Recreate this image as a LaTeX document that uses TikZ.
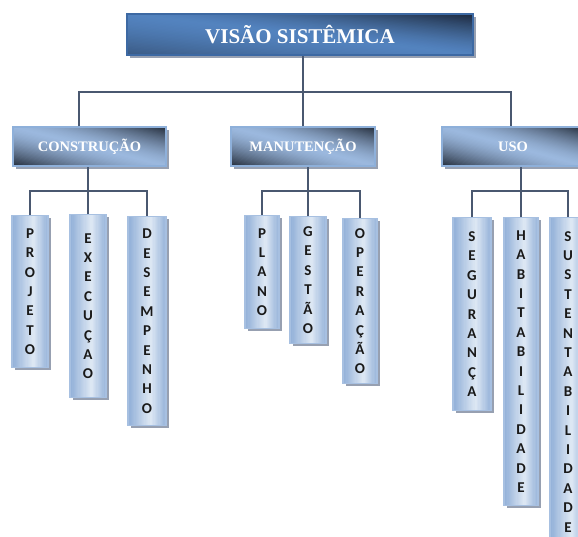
\documentclass[tikz,border=0pt]{standalone}
\usepackage{fontspec}
\setmainfont{Liberation Serif}
\newfontfamily\lettersfont{Carlito}
\usetikzlibrary{shadows}
\definecolor{linec}{HTML}{4A5870}
\definecolor{topblue}{HTML}{5383BF}
\definecolor{topdark}{HTML}{1C283C}
\definecolor{topedge}{HTML}{3D69A3}
\definecolor{midlight}{HTML}{9BB8DE}
\definecolor{midblack}{HTML}{242D3B}
\definecolor{midedge}{HTML}{8EB0DA}
\definecolor{leafblue}{HTML}{8FAED7}
\definecolor{leaflight}{HTML}{DEE8F4}
\definecolor{leafedge}{HTML}{A7C0E1}
\definecolor{shadowc}{HTML}{8C96A8}
\tikzset{
  % diagonal gradient: colour #1 towards bottom-left and top-right corners, #2 along the other diagonal
  sgrad/.style n args={5}{path picture={%
    \pgfpointdiff{\pgfpointanchor{path picture bounding box}{south west}}{\pgfpointanchor{path picture bounding box}{north east}}%
    \pgfgetlastxy{\gW}{\gH}%
    \foreach \gi in {0,...,59}{%
      \pgfmathsetmacro\ga{\gi/30}\pgfmathsetmacro\gb{(\gi+1.4)/30}%
      \pgfmathsetmacro\gs{(\gi+0.5)/30}%
      \pgfmathsetmacro\gp{\gs<1 ? #3*(max(1-\gs,0.001))^#5 : #4*(max(\gs-1,0.001))^#5}%
      \fill[#1!\gp!#2]
        ([shift={({(\ga+1)*\gW},{-\gH})}]path picture bounding box.south west) --
        ([shift={({(\gb+1)*\gW},{-\gH})}]path picture bounding box.south west) --
        ([shift={({-\gW},{(\gb+1)*\gH})}]path picture bounding box.south west) --
        ([shift={({-\gW},{(\ga+1)*\gH})}]path picture bounding box.south west) -- cycle;}}},
  leafgrad/.style={path picture={%
    \pgfpointdiff{\pgfpointanchor{path picture bounding box}{south west}}{\pgfpointanchor{path picture bounding box}{north east}}%
    \pgfgetlastxy{\gW}{\gH}%
    \foreach \gi in {0,...,29}{%
      \pgfmathsetmacro\ga{\gi/30}\pgfmathsetmacro\gb{(\gi+1.4)/30}%
      \pgfmathsetmacro\gt{(\gi+0.5)/30}%
      \pgfmathsetmacro\gp{\gt<0.6 ? 100*(1-\gt/0.6) : 90*(\gt-0.6)/0.4}%
      \fill[leafblue!\gp!leaflight]
        ([shift={({\ga*\gW},{-2pt})}]path picture bounding box.south west) rectangle
        ([shift={({\gb*\gW},{\gH+2pt})}]path picture bounding box.south west);}}},
  shadowed/.style={drop shadow={shadow xshift=2.5pt,shadow yshift=-2.5pt,fill=shadowc,opacity=0.9}},
  topbox/.style={shadowed,draw=topedge,line width=1.6pt,fill=topblue,sgrad={topdark}{topblue}{45}{100}{1.4},
    text=white,font=\bfseries\fontsize{21}{24}\selectfont,inner sep=0pt},
  midbox/.style={shadowed,draw=midedge,line width=1.2pt,fill=midlight,sgrad={midblack}{midlight}{100}{100}{1.5},
    text=white,font=\bfseries\fontsize{14.5}{16}\selectfont,inner sep=0pt,
    minimum height=39pt},
  leafbox/.style={shadowed,draw=leafedge,line width=1.2pt,fill=leaflight,leafgrad,
    text=black!90,font=\lettersfont\bfseries\fontsize{15}{19.4}\selectfont,
    align=center,inner sep=0pt,minimum width=36pt,anchor=north},
  conn/.style={draw=linec,line width=1.3pt}
}
\begin{document}
\begin{tikzpicture}[x=1pt,y=-1pt]
\useasboundingbox (0,0) rectangle (578,536);
\clip (0,0) rectangle (578,536);
% level 0
\node[topbox,minimum width=346pt,minimum height=41pt] (root) at (300,34.5) {VISÃO SISTÊMICA};
% level 1
\node[midbox,minimum width=153pt] (c) at (89.5,146.5) {CONSTRUÇÃO};
\node[midbox,minimum width=144pt] (m) at (303,146.5) {MANUTENÇÃO};
\node[midbox,minimum width=142pt] (u) at (513,146.5) {USO};
% level 2
\node[leafbox,minimum height=152pt] (p1) at (30,215) {P\\R\\O\\J\\E\\T\\O};
\node[leafbox,minimum height=183pt] (p2) at (88,214) {E\\X\\E\\C\\U\\Ç\\A\\O};
\node[leafbox,minimum height=209pt,minimum width=38pt] (p3) at (147,216) {D\\E\\S\\E\\M\\P\\E\\N\\H\\O};
\node[leafbox,minimum height=113pt,minimum width=34pt] (m1) at (262,215) {P\\L\\A\\N\\O};
\node[leafbox,minimum height=127pt] (m2) at (308,216) {G\\E\\S\\T\\Ã\\O};
\node[leafbox,minimum height=165pt,minimum width=34pt] (m3) at (360,218) {O\\P\\E\\R\\A\\Ç\\Ã\\O};
\node[leafbox,minimum height=193pt,minimum width=38pt] (u1) at (472,217) {S\\E\\G\\U\\R\\A\\N\\Ç\\A};
\node[leafbox,minimum height=288pt,minimum width=34pt] (u2) at (521,217) {H\\A\\B\\I\\T\\A\\B\\I\\L\\I\\D\\A\\D\\E};
\node[leafbox,minimum height=328pt] (u3) at (568,217) {S\\U\\S\\T\\E\\N\\T\\A\\B\\I\\L\\I\\D\\A\\D\\E};
% connectors level 0 -> 1
\coordinate (h1) at (0,92);
\coordinate (ca) at ([xshift=-10.5pt]c.north);
\coordinate (ua) at ([xshift=-2pt]u.north);
\draw[conn] (m.north) -- (m.north |- root.south);
\draw[conn] (ca) -- (ca |- h1) -- (ua |- h1) -- (ua);
% connectors level 1 -> 2
\coordinate (h2) at (0,191);
\draw[conn] (p2.north) -- (p2.north |- c.south);
\draw[conn] (p1.north) -- (p1.north |- h2) -- (p3.north |- h2) -- (p3.north);
\draw[conn] (m2.north) -- (m2.north |- m.south);
\draw[conn] (m1.north) -- (m1.north |- h2) -- (m3.north |- h2) -- (m3.north);
\draw[conn] (u2.north) -- (u2.north |- u.south);
\draw[conn] (u1.north) -- (u1.north |- h2) -- (u3.north |- h2) -- (u3.north);
\end{tikzpicture}
\end{document}
